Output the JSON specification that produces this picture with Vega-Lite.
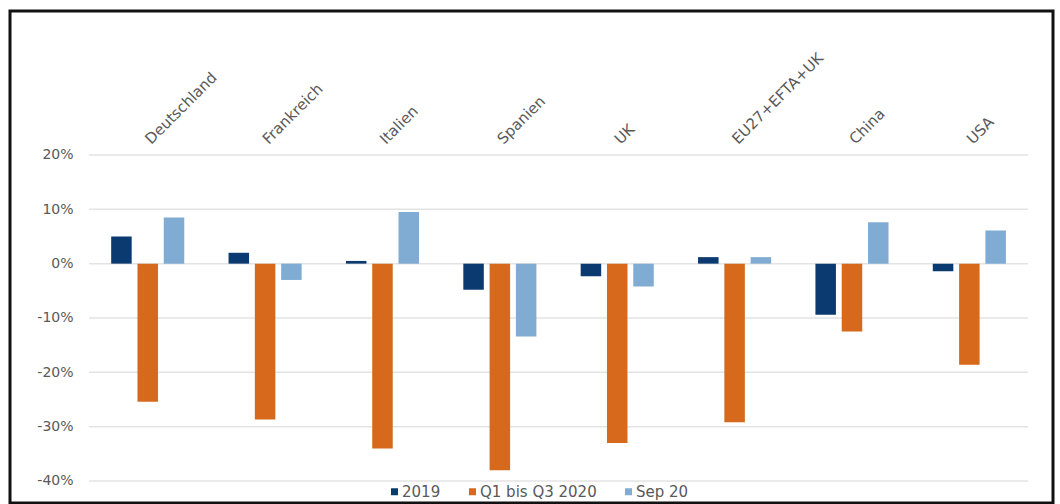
{
  "$schema": "https://vega.github.io/schema/vega-lite/v6.json",
  "autosize": "none",
  "padding": {"left": 10, "top": 11, "right": 6, "bottom": 1},
  "width": 1043,
  "height": 492,
  "background": "white",
  "config": {
    "view": {"stroke": "#111111", "strokeWidth": 3},
    "font": "DejaVu Sans",
    "axis": {"labelFont": "DejaVu Sans", "labelColor": "#595959", "labelFontSize": 14}
  },
  "datasets": {
    "bars": [
      {"country": "Deutschland", "series": "2019", "value": 0.050},
      {"country": "Deutschland", "series": "Q1 bis Q3 2020", "value": -0.254},
      {"country": "Deutschland", "series": "Sep 20", "value": 0.085},
      {"country": "Frankreich", "series": "2019", "value": 0.020},
      {"country": "Frankreich", "series": "Q1 bis Q3 2020", "value": -0.287},
      {"country": "Frankreich", "series": "Sep 20", "value": -0.030},
      {"country": "Italien", "series": "2019", "value": 0.005},
      {"country": "Italien", "series": "Q1 bis Q3 2020", "value": -0.340},
      {"country": "Italien", "series": "Sep 20", "value": 0.095},
      {"country": "Spanien", "series": "2019", "value": -0.048},
      {"country": "Spanien", "series": "Q1 bis Q3 2020", "value": -0.380},
      {"country": "Spanien", "series": "Sep 20", "value": -0.134},
      {"country": "UK", "series": "2019", "value": -0.023},
      {"country": "UK", "series": "Q1 bis Q3 2020", "value": -0.330},
      {"country": "UK", "series": "Sep 20", "value": -0.042},
      {"country": "EU27+EFTA+UK", "series": "2019", "value": 0.012},
      {"country": "EU27+EFTA+UK", "series": "Q1 bis Q3 2020", "value": -0.292},
      {"country": "EU27+EFTA+UK", "series": "Sep 20", "value": 0.012},
      {"country": "China", "series": "2019", "value": -0.094},
      {"country": "China", "series": "Q1 bis Q3 2020", "value": -0.125},
      {"country": "China", "series": "Sep 20", "value": 0.076},
      {"country": "USA", "series": "2019", "value": -0.014},
      {"country": "USA", "series": "Q1 bis Q3 2020", "value": -0.186},
      {"country": "USA", "series": "Sep 20", "value": 0.061}
    ],
    "grid": [
      {"tick": -0.4, "from": "Deutschland", "to": "USA"},
      {"tick": -0.3, "from": "Deutschland", "to": "USA"},
      {"tick": -0.2, "from": "Deutschland", "to": "USA"},
      {"tick": -0.1, "from": "Deutschland", "to": "USA"},
      {"tick": 0.0, "from": "Deutschland", "to": "USA"},
      {"tick": 0.1, "from": "Deutschland", "to": "USA"},
      {"tick": 0.2, "from": "Deutschland", "to": "USA"}
    ]
  },
  "layer": [
    {
      "data": {"name": "grid"},
      "mark": {"type": "rule", "color": "#e3e3e3", "strokeWidth": 1.5},
      "encoding": {
        "x": {"field": "from", "type": "nominal", "bandPosition": 0,
          "scale": {"domain": ["Deutschland", "Frankreich", "Italien", "Spanien", "UK", "EU27+EFTA+UK", "China", "USA"], "paddingInner": 0, "paddingOuter": 0.443, "align": 0.76},
          "axis": {"orient": "top", "title": null, "labelAngle": -45, "labelAlign": "left", "labelBaseline": "middle", "labelPadding": 14, "labelFontSize": 15, "ticks": false, "domain": false, "offset": -144}},
        "x2": {"field": "to", "bandPosition": 1},
        "y": {"field": "tick", "type": "quantitative",
          "scale": {"domain": [-0.4405, 0.465], "nice": false, "zero": false},
          "axis": {"title": null, "values": [-0.4, -0.3, -0.2, -0.1, 0, 0.1, 0.2], "format": ".0%", "labelExpr": "replace(datum.label, '−', '-')", "grid": false, "ticks": false, "domain": false, "labelPadding": 16, "offset": -79}}
      }
    },
    {
      "data": {"name": "bars"},
      "mark": {"type": "bar"},
      "encoding": {
        "x": {"field": "country", "type": "nominal", "sort": null, "title": null},
        "xOffset": {"field": "series", "type": "nominal", "scale": {"paddingInner": 0.22, "paddingOuter": 0.842}},
        "y": {"field": "value", "type": "quantitative", "title": null},
        "color": {"field": "series", "type": "nominal",
          "scale": {"domain": ["2019", "Q1 bis Q3 2020", "Sep 20"], "range": ["#0b3a70", "#d6691b", "#80acd4"]},
          "legend": {"title": null, "orient": "none", "direction": "horizontal", "legendX": 377, "legendY": 473, "symbolType": "square", "symbolSize": 49, "labelFontSize": 15, "labelFont": "DejaVu Sans", "labelColor": "#595959", "labelOffset": 0, "columnPadding": 24, "padding": 0}}
      }
    }
  ]
}
